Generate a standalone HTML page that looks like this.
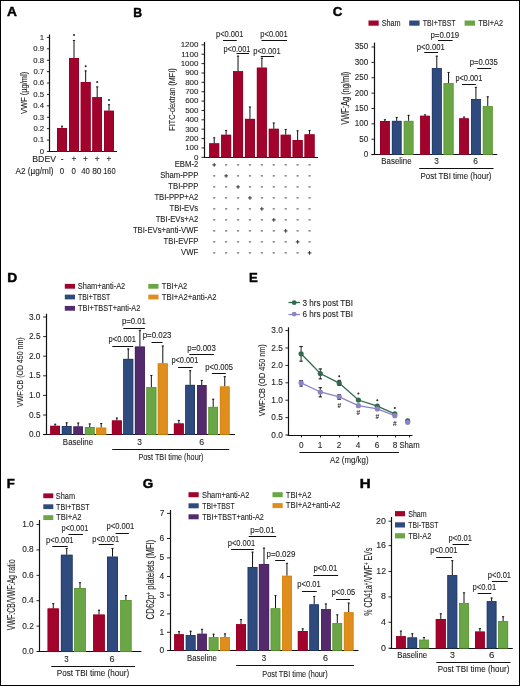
<!DOCTYPE html>
<html><head><meta charset="utf-8"><style>
html,body{margin:0;padding:0;background:#fff;}
svg{display:block;font-family:"Liberation Sans",sans-serif;will-change:transform;}
svg text{stroke:#1e1e1e;stroke-width:0.1px;}
</style></head><body>
<svg width="520" height="686" viewBox="0 0 520 686">
<rect x="0" y="0" width="520" height="686" fill="#fff"/>
<text x="6.96" y="16.10" font-size="13.04" textLength="9.92" lengthAdjust="spacingAndGlyphs" font-weight="bold" fill="#000" style="stroke:#000;stroke-width:0.45px">A</text>
<line x1="49.50" y1="34.50" x2="49.50" y2="152.00" stroke="#111" stroke-width="1.2"/>
<line x1="46.90" y1="151.50" x2="49.90" y2="151.50" stroke="#111" stroke-width="0.9"/>
<text x="39.76" y="153.86" font-size="8.0" textLength="4.32" lengthAdjust="spacingAndGlyphs" fill="#1e1e1e">0</text>
<line x1="46.90" y1="140.09" x2="49.90" y2="140.09" stroke="#111" stroke-width="0.9"/>
<text x="33.36" y="142.45" font-size="8.0" textLength="10.79" lengthAdjust="spacingAndGlyphs" fill="#1e1e1e">0.1</text>
<line x1="46.90" y1="128.68" x2="49.90" y2="128.68" stroke="#111" stroke-width="0.9"/>
<text x="33.40" y="131.04" font-size="8.0" textLength="10.79" lengthAdjust="spacingAndGlyphs" fill="#1e1e1e">0.2</text>
<line x1="46.90" y1="117.27" x2="49.90" y2="117.27" stroke="#111" stroke-width="0.9"/>
<text x="33.32" y="119.63" font-size="8.0" textLength="10.79" lengthAdjust="spacingAndGlyphs" fill="#1e1e1e">0.3</text>
<line x1="46.90" y1="105.86" x2="49.90" y2="105.86" stroke="#111" stroke-width="0.9"/>
<text x="33.25" y="108.22" font-size="8.0" textLength="10.79" lengthAdjust="spacingAndGlyphs" fill="#1e1e1e">0.4</text>
<line x1="46.90" y1="94.45" x2="49.90" y2="94.45" stroke="#111" stroke-width="0.9"/>
<text x="33.32" y="96.81" font-size="8.0" textLength="10.79" lengthAdjust="spacingAndGlyphs" fill="#1e1e1e">0.5</text>
<line x1="46.90" y1="83.04" x2="49.90" y2="83.04" stroke="#111" stroke-width="0.9"/>
<text x="33.32" y="85.40" font-size="8.0" textLength="10.79" lengthAdjust="spacingAndGlyphs" fill="#1e1e1e">0.6</text>
<line x1="46.90" y1="71.63" x2="49.90" y2="71.63" stroke="#111" stroke-width="0.9"/>
<text x="33.40" y="73.99" font-size="8.0" textLength="10.79" lengthAdjust="spacingAndGlyphs" fill="#1e1e1e">0.7</text>
<line x1="46.90" y1="60.22" x2="49.90" y2="60.22" stroke="#111" stroke-width="0.9"/>
<text x="33.32" y="62.58" font-size="8.0" textLength="10.79" lengthAdjust="spacingAndGlyphs" fill="#1e1e1e">0.8</text>
<line x1="46.90" y1="48.81" x2="49.90" y2="48.81" stroke="#111" stroke-width="0.9"/>
<text x="33.36" y="51.17" font-size="8.0" textLength="10.79" lengthAdjust="spacingAndGlyphs" fill="#1e1e1e">0.9</text>
<line x1="46.90" y1="37.40" x2="49.90" y2="37.40" stroke="#111" stroke-width="0.9"/>
<text x="39.84" y="39.76" font-size="8.0" textLength="4.32" lengthAdjust="spacingAndGlyphs" fill="#1e1e1e">1</text>
<line x1="49.00" y1="151.50" x2="117.00" y2="151.50" stroke="#111" stroke-width="1.2"/>
<line x1="62.00" y1="125.75" x2="62.00" y2="128.00" stroke="#111" stroke-width="1.0"/>
<line x1="60.90" y1="126.20" x2="63.10" y2="126.20" stroke="#111" stroke-width="0.9"/>
<rect x="57.00" y="128.00" width="10.00" height="23.50" fill="#a2032c"/>
<rect x="57.35" y="128.35" width="9.30" height="23.15" fill="none" stroke="#960024" stroke-width="0.7"/>
<line x1="74.00" y1="40.00" x2="74.00" y2="58.00" stroke="#111" stroke-width="1.0"/>
<line x1="72.90" y1="40.45" x2="75.10" y2="40.45" stroke="#111" stroke-width="0.9"/>
<rect x="69.00" y="58.00" width="10.00" height="93.50" fill="#a2032c"/>
<rect x="69.35" y="58.35" width="9.30" height="93.15" fill="none" stroke="#960024" stroke-width="0.7"/>
<line x1="85.67" y1="70.50" x2="85.67" y2="82.00" stroke="#111" stroke-width="1.0"/>
<line x1="84.58" y1="70.95" x2="86.77" y2="70.95" stroke="#111" stroke-width="0.9"/>
<rect x="80.75" y="82.00" width="9.85" height="69.50" fill="#a2032c"/>
<rect x="81.10" y="82.35" width="9.15" height="69.15" fill="none" stroke="#960024" stroke-width="0.7"/>
<line x1="97.20" y1="86.50" x2="97.20" y2="97.20" stroke="#111" stroke-width="1.0"/>
<line x1="96.10" y1="86.95" x2="98.30" y2="86.95" stroke="#111" stroke-width="0.9"/>
<rect x="92.40" y="97.20" width="9.60" height="54.30" fill="#a2032c"/>
<rect x="92.75" y="97.55" width="8.90" height="53.95" fill="none" stroke="#960024" stroke-width="0.7"/>
<line x1="109.00" y1="104.25" x2="109.00" y2="110.75" stroke="#111" stroke-width="1.0"/>
<line x1="107.90" y1="104.70" x2="110.10" y2="104.70" stroke="#111" stroke-width="0.9"/>
<rect x="104.00" y="110.75" width="10.00" height="40.75" fill="#a2032c"/>
<rect x="104.35" y="111.10" width="9.30" height="40.40" fill="none" stroke="#960024" stroke-width="0.7"/>
<circle cx="74.00" cy="35.00" r="1.0" fill="#222"/>
<circle cx="85.67" cy="66.25" r="1.0" fill="#222"/>
<circle cx="97.20" cy="81.90" r="1.0" fill="#222"/>
<circle cx="109.00" cy="100.00" r="1.0" fill="#222"/>
<text x="32.30" y="161.58" font-size="8.2" textLength="23.77" lengthAdjust="spacingAndGlyphs" fill="#1e1e1e">BDEV</text>
<text x="62.00" y="161.58" font-size="8.2" text-anchor="middle" fill="#1e1e1e">-</text>
<text x="74.00" y="161.58" font-size="8.2" text-anchor="middle" fill="#1e1e1e">+</text>
<text x="85.50" y="161.58" font-size="8.2" text-anchor="middle" fill="#1e1e1e">+</text>
<text x="97.25" y="161.58" font-size="8.2" text-anchor="middle" fill="#1e1e1e">+</text>
<text x="109.00" y="161.58" font-size="8.2" text-anchor="middle" fill="#1e1e1e">+</text>
<text x="15.50" y="173.58" font-size="8.2" textLength="38.01" lengthAdjust="spacingAndGlyphs" fill="#1e1e1e">A2 (µg/ml)</text>
<text x="59.78" y="173.58" font-size="8.2" textLength="4.40" lengthAdjust="spacingAndGlyphs" fill="#1e1e1e">0</text>
<text x="71.53" y="173.58" font-size="8.2" textLength="4.40" lengthAdjust="spacingAndGlyphs" fill="#1e1e1e">0</text>
<text x="81.14" y="173.58" font-size="8.2" textLength="8.65" lengthAdjust="spacingAndGlyphs" fill="#1e1e1e">40</text>
<text x="92.17" y="173.58" font-size="8.2" textLength="9.40" lengthAdjust="spacingAndGlyphs" fill="#1e1e1e">80</text>
<text x="103.19" y="173.58" font-size="8.2" textLength="12.55" lengthAdjust="spacingAndGlyphs" fill="#1e1e1e">160</text>
<text transform="translate(27.18,113.94) rotate(-90)" x="0" y="0" font-size="9.8" textLength="42.19" lengthAdjust="spacingAndGlyphs" fill="#1e1e1e">VWF (µg/ml)</text>
<text x="133.20" y="16.60" font-size="13.48" textLength="8.88" lengthAdjust="spacingAndGlyphs" font-weight="bold" fill="#000" style="stroke:#000;stroke-width:0.45px">B</text>
<line x1="204.50" y1="42.00" x2="204.50" y2="158.00" stroke="#111" stroke-width="1.2"/>
<line x1="201.50" y1="157.30" x2="204.50" y2="157.30" stroke="#111" stroke-width="0.9"/>
<text x="194.03" y="159.69" font-size="8.1" textLength="4.46" lengthAdjust="spacingAndGlyphs" fill="#1e1e1e">0</text>
<line x1="201.50" y1="147.93" x2="204.50" y2="147.93" stroke="#111" stroke-width="0.9"/>
<text x="185.13" y="150.32" font-size="8.1" textLength="13.38" lengthAdjust="spacingAndGlyphs" fill="#1e1e1e">100</text>
<line x1="201.50" y1="138.56" x2="204.50" y2="138.56" stroke="#111" stroke-width="0.9"/>
<text x="185.13" y="140.95" font-size="8.1" textLength="13.38" lengthAdjust="spacingAndGlyphs" fill="#1e1e1e">200</text>
<line x1="201.50" y1="129.19" x2="204.50" y2="129.19" stroke="#111" stroke-width="0.9"/>
<text x="185.13" y="131.58" font-size="8.1" textLength="13.38" lengthAdjust="spacingAndGlyphs" fill="#1e1e1e">300</text>
<line x1="201.50" y1="119.82" x2="204.50" y2="119.82" stroke="#111" stroke-width="0.9"/>
<text x="185.13" y="122.21" font-size="8.1" textLength="13.38" lengthAdjust="spacingAndGlyphs" fill="#1e1e1e">400</text>
<line x1="201.50" y1="110.45" x2="204.50" y2="110.45" stroke="#111" stroke-width="0.9"/>
<text x="185.13" y="112.84" font-size="8.1" textLength="13.38" lengthAdjust="spacingAndGlyphs" fill="#1e1e1e">500</text>
<line x1="201.50" y1="101.08" x2="204.50" y2="101.08" stroke="#111" stroke-width="0.9"/>
<text x="185.13" y="103.47" font-size="8.1" textLength="13.38" lengthAdjust="spacingAndGlyphs" fill="#1e1e1e">600</text>
<line x1="201.50" y1="91.71" x2="204.50" y2="91.71" stroke="#111" stroke-width="0.9"/>
<text x="185.13" y="94.10" font-size="8.1" textLength="13.38" lengthAdjust="spacingAndGlyphs" fill="#1e1e1e">700</text>
<line x1="201.50" y1="82.34" x2="204.50" y2="82.34" stroke="#111" stroke-width="0.9"/>
<text x="185.13" y="84.73" font-size="8.1" textLength="13.38" lengthAdjust="spacingAndGlyphs" fill="#1e1e1e">800</text>
<line x1="201.50" y1="72.97" x2="204.50" y2="72.97" stroke="#111" stroke-width="0.9"/>
<text x="185.13" y="75.36" font-size="8.1" textLength="13.38" lengthAdjust="spacingAndGlyphs" fill="#1e1e1e">900</text>
<line x1="201.50" y1="63.60" x2="204.50" y2="63.60" stroke="#111" stroke-width="0.9"/>
<text x="180.64" y="65.99" font-size="8.1" textLength="17.84" lengthAdjust="spacingAndGlyphs" fill="#1e1e1e">1000</text>
<line x1="201.50" y1="54.23" x2="204.50" y2="54.23" stroke="#111" stroke-width="0.9"/>
<text x="181.24" y="56.62" font-size="8.1" textLength="17.24" lengthAdjust="spacingAndGlyphs" fill="#1e1e1e">1100</text>
<line x1="201.50" y1="44.86" x2="204.50" y2="44.86" stroke="#111" stroke-width="0.9"/>
<text x="180.64" y="47.25" font-size="8.1" textLength="17.84" lengthAdjust="spacingAndGlyphs" fill="#1e1e1e">1200</text>
<line x1="204.00" y1="157.50" x2="318.00" y2="157.50" stroke="#111" stroke-width="1.2"/>
<line x1="214.20" y1="137.40" x2="214.20" y2="143.40" stroke="#111" stroke-width="1.0"/>
<line x1="213.10" y1="137.85" x2="215.30" y2="137.85" stroke="#111" stroke-width="0.9"/>
<rect x="209.20" y="143.40" width="10.00" height="13.90" fill="#a2032c"/>
<rect x="209.55" y="143.75" width="9.30" height="13.55" fill="none" stroke="#960024" stroke-width="0.7"/>
<line x1="226.12" y1="130.00" x2="226.12" y2="134.80" stroke="#111" stroke-width="1.0"/>
<line x1="225.02" y1="130.45" x2="227.22" y2="130.45" stroke="#111" stroke-width="0.9"/>
<rect x="221.12" y="134.80" width="10.00" height="22.50" fill="#a2032c"/>
<rect x="221.47" y="135.15" width="9.30" height="22.15" fill="none" stroke="#960024" stroke-width="0.7"/>
<line x1="238.04" y1="55.70" x2="238.04" y2="71.20" stroke="#111" stroke-width="1.0"/>
<line x1="236.94" y1="56.15" x2="239.14" y2="56.15" stroke="#111" stroke-width="0.9"/>
<rect x="233.04" y="71.20" width="10.00" height="86.10" fill="#a2032c"/>
<rect x="233.39" y="71.55" width="9.30" height="85.75" fill="none" stroke="#960024" stroke-width="0.7"/>
<line x1="249.96" y1="106.60" x2="249.96" y2="118.90" stroke="#111" stroke-width="1.0"/>
<line x1="248.86" y1="107.05" x2="251.06" y2="107.05" stroke="#111" stroke-width="0.9"/>
<rect x="244.96" y="118.90" width="10.00" height="38.40" fill="#a2032c"/>
<rect x="245.31" y="119.25" width="9.30" height="38.05" fill="none" stroke="#960024" stroke-width="0.7"/>
<line x1="261.88" y1="57.70" x2="261.88" y2="67.70" stroke="#111" stroke-width="1.0"/>
<line x1="260.78" y1="58.15" x2="262.98" y2="58.15" stroke="#111" stroke-width="0.9"/>
<rect x="256.88" y="67.70" width="10.00" height="89.60" fill="#a2032c"/>
<rect x="257.23" y="68.05" width="9.30" height="89.25" fill="none" stroke="#960024" stroke-width="0.7"/>
<line x1="273.80" y1="122.60" x2="273.80" y2="128.80" stroke="#111" stroke-width="1.0"/>
<line x1="272.70" y1="123.05" x2="274.90" y2="123.05" stroke="#111" stroke-width="0.9"/>
<rect x="268.80" y="128.80" width="10.00" height="28.50" fill="#a2032c"/>
<rect x="269.15" y="129.15" width="9.30" height="28.15" fill="none" stroke="#960024" stroke-width="0.7"/>
<line x1="285.72" y1="129.00" x2="285.72" y2="134.80" stroke="#111" stroke-width="1.0"/>
<line x1="284.62" y1="129.45" x2="286.82" y2="129.45" stroke="#111" stroke-width="0.9"/>
<rect x="280.72" y="134.80" width="10.00" height="22.50" fill="#a2032c"/>
<rect x="281.07" y="135.15" width="9.30" height="22.15" fill="none" stroke="#960024" stroke-width="0.7"/>
<line x1="297.64" y1="130.40" x2="297.64" y2="140.00" stroke="#111" stroke-width="1.0"/>
<line x1="296.54" y1="130.85" x2="298.74" y2="130.85" stroke="#111" stroke-width="0.9"/>
<rect x="292.64" y="140.00" width="10.00" height="17.30" fill="#a2032c"/>
<rect x="292.99" y="140.35" width="9.30" height="16.95" fill="none" stroke="#960024" stroke-width="0.7"/>
<line x1="309.56" y1="130.00" x2="309.56" y2="134.40" stroke="#111" stroke-width="1.0"/>
<line x1="308.46" y1="130.45" x2="310.66" y2="130.45" stroke="#111" stroke-width="0.9"/>
<rect x="304.56" y="134.40" width="10.00" height="22.90" fill="#a2032c"/>
<rect x="304.91" y="134.75" width="9.30" height="22.55" fill="none" stroke="#960024" stroke-width="0.7"/>
<text x="216.01" y="36.63" font-size="8.2" textLength="27.35" lengthAdjust="spacingAndGlyphs" fill="#1e1e1e">p&lt;0.001</text>
<line x1="223.00" y1="40.50" x2="236.80" y2="40.50" stroke="#111" stroke-width="1.0"/>
<text x="223.52" y="52.33" font-size="8.2" textLength="26.83" lengthAdjust="spacingAndGlyphs" fill="#1e1e1e">p&lt;0.001</text>
<line x1="236.50" y1="53.50" x2="249.00" y2="53.50" stroke="#111" stroke-width="1.0"/>
<text x="253.31" y="53.63" font-size="8.2" textLength="27.35" lengthAdjust="spacingAndGlyphs" fill="#1e1e1e">p&lt;0.001</text>
<line x1="260.80" y1="56.50" x2="274.20" y2="56.50" stroke="#111" stroke-width="1.0"/>
<text x="260.31" y="36.63" font-size="8.2" textLength="27.45" lengthAdjust="spacingAndGlyphs" fill="#1e1e1e">p&lt;0.001</text>
<line x1="261.50" y1="40.50" x2="287.00" y2="40.50" stroke="#111" stroke-width="1.0"/>
<text x="174.74" y="166.83" font-size="8.2" textLength="23.56" lengthAdjust="spacingAndGlyphs" fill="#1e1e1e">EBM-2</text>
<line x1="212.30" y1="164.90" x2="216.10" y2="164.90" stroke="#222" stroke-width="0.9"/>
<line x1="214.20" y1="163.00" x2="214.20" y2="166.80" stroke="#222" stroke-width="0.9"/>
<line x1="225.02" y1="164.90" x2="227.22" y2="164.90" stroke="#333" stroke-width="0.9"/>
<line x1="236.94" y1="164.90" x2="239.14" y2="164.90" stroke="#333" stroke-width="0.9"/>
<line x1="248.86" y1="164.90" x2="251.06" y2="164.90" stroke="#333" stroke-width="0.9"/>
<line x1="260.78" y1="164.90" x2="262.98" y2="164.90" stroke="#333" stroke-width="0.9"/>
<line x1="272.70" y1="164.90" x2="274.90" y2="164.90" stroke="#333" stroke-width="0.9"/>
<line x1="284.62" y1="164.90" x2="286.82" y2="164.90" stroke="#333" stroke-width="0.9"/>
<line x1="296.54" y1="164.90" x2="298.74" y2="164.90" stroke="#333" stroke-width="0.9"/>
<line x1="308.46" y1="164.90" x2="310.66" y2="164.90" stroke="#333" stroke-width="0.9"/>
<text x="160.17" y="177.83" font-size="8.2" textLength="38.13" lengthAdjust="spacingAndGlyphs" fill="#1e1e1e">Sham-PPP</text>
<line x1="213.10" y1="175.90" x2="215.30" y2="175.90" stroke="#333" stroke-width="0.9"/>
<line x1="224.22" y1="175.90" x2="228.02" y2="175.90" stroke="#222" stroke-width="0.9"/>
<line x1="226.12" y1="174.00" x2="226.12" y2="177.80" stroke="#222" stroke-width="0.9"/>
<line x1="236.94" y1="175.90" x2="239.14" y2="175.90" stroke="#333" stroke-width="0.9"/>
<line x1="248.86" y1="175.90" x2="251.06" y2="175.90" stroke="#333" stroke-width="0.9"/>
<line x1="260.78" y1="175.90" x2="262.98" y2="175.90" stroke="#333" stroke-width="0.9"/>
<line x1="272.70" y1="175.90" x2="274.90" y2="175.90" stroke="#333" stroke-width="0.9"/>
<line x1="284.62" y1="175.90" x2="286.82" y2="175.90" stroke="#333" stroke-width="0.9"/>
<line x1="296.54" y1="175.90" x2="298.74" y2="175.90" stroke="#333" stroke-width="0.9"/>
<line x1="308.46" y1="175.90" x2="310.66" y2="175.90" stroke="#333" stroke-width="0.9"/>
<text x="168.30" y="188.83" font-size="8.2" textLength="29.98" lengthAdjust="spacingAndGlyphs" fill="#1e1e1e">TBI-PPP</text>
<line x1="213.10" y1="186.90" x2="215.30" y2="186.90" stroke="#333" stroke-width="0.9"/>
<line x1="225.02" y1="186.90" x2="227.22" y2="186.90" stroke="#333" stroke-width="0.9"/>
<line x1="236.14" y1="186.90" x2="239.94" y2="186.90" stroke="#222" stroke-width="0.9"/>
<line x1="238.04" y1="185.00" x2="238.04" y2="188.80" stroke="#222" stroke-width="0.9"/>
<line x1="248.86" y1="186.90" x2="251.06" y2="186.90" stroke="#333" stroke-width="0.9"/>
<line x1="260.78" y1="186.90" x2="262.98" y2="186.90" stroke="#333" stroke-width="0.9"/>
<line x1="272.70" y1="186.90" x2="274.90" y2="186.90" stroke="#333" stroke-width="0.9"/>
<line x1="284.62" y1="186.90" x2="286.82" y2="186.90" stroke="#333" stroke-width="0.9"/>
<line x1="296.54" y1="186.90" x2="298.74" y2="186.90" stroke="#333" stroke-width="0.9"/>
<line x1="308.46" y1="186.90" x2="310.66" y2="186.90" stroke="#333" stroke-width="0.9"/>
<text x="154.39" y="199.83" font-size="8.2" textLength="43.91" lengthAdjust="spacingAndGlyphs" fill="#1e1e1e">TBI-PPP+A2</text>
<line x1="213.10" y1="197.90" x2="215.30" y2="197.90" stroke="#333" stroke-width="0.9"/>
<line x1="225.02" y1="197.90" x2="227.22" y2="197.90" stroke="#333" stroke-width="0.9"/>
<line x1="236.94" y1="197.90" x2="239.14" y2="197.90" stroke="#333" stroke-width="0.9"/>
<line x1="248.06" y1="197.90" x2="251.86" y2="197.90" stroke="#222" stroke-width="0.9"/>
<line x1="249.96" y1="196.00" x2="249.96" y2="199.80" stroke="#222" stroke-width="0.9"/>
<line x1="260.78" y1="197.90" x2="262.98" y2="197.90" stroke="#333" stroke-width="0.9"/>
<line x1="272.70" y1="197.90" x2="274.90" y2="197.90" stroke="#333" stroke-width="0.9"/>
<line x1="284.62" y1="197.90" x2="286.82" y2="197.90" stroke="#333" stroke-width="0.9"/>
<line x1="296.54" y1="197.90" x2="298.74" y2="197.90" stroke="#333" stroke-width="0.9"/>
<line x1="308.46" y1="197.90" x2="310.66" y2="197.90" stroke="#333" stroke-width="0.9"/>
<text x="169.46" y="210.83" font-size="8.2" textLength="28.70" lengthAdjust="spacingAndGlyphs" fill="#1e1e1e">TBI-EVs</text>
<line x1="213.10" y1="208.90" x2="215.30" y2="208.90" stroke="#333" stroke-width="0.9"/>
<line x1="225.02" y1="208.90" x2="227.22" y2="208.90" stroke="#333" stroke-width="0.9"/>
<line x1="236.94" y1="208.90" x2="239.14" y2="208.90" stroke="#333" stroke-width="0.9"/>
<line x1="248.86" y1="208.90" x2="251.06" y2="208.90" stroke="#333" stroke-width="0.9"/>
<line x1="259.98" y1="208.90" x2="263.78" y2="208.90" stroke="#222" stroke-width="0.9"/>
<line x1="261.88" y1="207.00" x2="261.88" y2="210.80" stroke="#222" stroke-width="0.9"/>
<line x1="272.70" y1="208.90" x2="274.90" y2="208.90" stroke="#333" stroke-width="0.9"/>
<line x1="284.62" y1="208.90" x2="286.82" y2="208.90" stroke="#333" stroke-width="0.9"/>
<line x1="296.54" y1="208.90" x2="298.74" y2="208.90" stroke="#333" stroke-width="0.9"/>
<line x1="308.46" y1="208.90" x2="310.66" y2="208.90" stroke="#333" stroke-width="0.9"/>
<text x="155.66" y="221.83" font-size="8.2" textLength="42.63" lengthAdjust="spacingAndGlyphs" fill="#1e1e1e">TBI-EVs+A2</text>
<line x1="213.10" y1="219.90" x2="215.30" y2="219.90" stroke="#333" stroke-width="0.9"/>
<line x1="225.02" y1="219.90" x2="227.22" y2="219.90" stroke="#333" stroke-width="0.9"/>
<line x1="236.94" y1="219.90" x2="239.14" y2="219.90" stroke="#333" stroke-width="0.9"/>
<line x1="248.86" y1="219.90" x2="251.06" y2="219.90" stroke="#333" stroke-width="0.9"/>
<line x1="260.78" y1="219.90" x2="262.98" y2="219.90" stroke="#333" stroke-width="0.9"/>
<line x1="271.90" y1="219.90" x2="275.70" y2="219.90" stroke="#222" stroke-width="0.9"/>
<line x1="273.80" y1="218.00" x2="273.80" y2="221.80" stroke="#222" stroke-width="0.9"/>
<line x1="284.62" y1="219.90" x2="286.82" y2="219.90" stroke="#333" stroke-width="0.9"/>
<line x1="296.54" y1="219.90" x2="298.74" y2="219.90" stroke="#333" stroke-width="0.9"/>
<line x1="308.46" y1="219.90" x2="310.66" y2="219.90" stroke="#333" stroke-width="0.9"/>
<text x="132.88" y="232.83" font-size="8.2" textLength="65.32" lengthAdjust="spacingAndGlyphs" fill="#1e1e1e">TBI-EVs+anti-VWF</text>
<line x1="213.10" y1="230.90" x2="215.30" y2="230.90" stroke="#333" stroke-width="0.9"/>
<line x1="225.02" y1="230.90" x2="227.22" y2="230.90" stroke="#333" stroke-width="0.9"/>
<line x1="236.94" y1="230.90" x2="239.14" y2="230.90" stroke="#333" stroke-width="0.9"/>
<line x1="248.86" y1="230.90" x2="251.06" y2="230.90" stroke="#333" stroke-width="0.9"/>
<line x1="260.78" y1="230.90" x2="262.98" y2="230.90" stroke="#333" stroke-width="0.9"/>
<line x1="272.70" y1="230.90" x2="274.90" y2="230.90" stroke="#333" stroke-width="0.9"/>
<line x1="283.82" y1="230.90" x2="287.62" y2="230.90" stroke="#222" stroke-width="0.9"/>
<line x1="285.72" y1="229.00" x2="285.72" y2="232.80" stroke="#222" stroke-width="0.9"/>
<line x1="296.54" y1="230.90" x2="298.74" y2="230.90" stroke="#333" stroke-width="0.9"/>
<line x1="308.46" y1="230.90" x2="310.66" y2="230.90" stroke="#333" stroke-width="0.9"/>
<text x="163.60" y="243.83" font-size="8.2" textLength="34.69" lengthAdjust="spacingAndGlyphs" fill="#1e1e1e">TBI-EVFP</text>
<line x1="213.10" y1="241.90" x2="215.30" y2="241.90" stroke="#333" stroke-width="0.9"/>
<line x1="225.02" y1="241.90" x2="227.22" y2="241.90" stroke="#333" stroke-width="0.9"/>
<line x1="236.94" y1="241.90" x2="239.14" y2="241.90" stroke="#333" stroke-width="0.9"/>
<line x1="248.86" y1="241.90" x2="251.06" y2="241.90" stroke="#333" stroke-width="0.9"/>
<line x1="260.78" y1="241.90" x2="262.98" y2="241.90" stroke="#333" stroke-width="0.9"/>
<line x1="272.70" y1="241.90" x2="274.90" y2="241.90" stroke="#333" stroke-width="0.9"/>
<line x1="284.62" y1="241.90" x2="286.82" y2="241.90" stroke="#333" stroke-width="0.9"/>
<line x1="295.74" y1="241.90" x2="299.54" y2="241.90" stroke="#222" stroke-width="0.9"/>
<line x1="297.64" y1="240.00" x2="297.64" y2="243.80" stroke="#222" stroke-width="0.9"/>
<line x1="308.46" y1="241.90" x2="310.66" y2="241.90" stroke="#333" stroke-width="0.9"/>
<text x="181.10" y="254.83" font-size="8.2" textLength="17.13" lengthAdjust="spacingAndGlyphs" fill="#1e1e1e">VWF</text>
<line x1="213.10" y1="252.90" x2="215.30" y2="252.90" stroke="#333" stroke-width="0.9"/>
<line x1="225.02" y1="252.90" x2="227.22" y2="252.90" stroke="#333" stroke-width="0.9"/>
<line x1="236.94" y1="252.90" x2="239.14" y2="252.90" stroke="#333" stroke-width="0.9"/>
<line x1="248.86" y1="252.90" x2="251.06" y2="252.90" stroke="#333" stroke-width="0.9"/>
<line x1="260.78" y1="252.90" x2="262.98" y2="252.90" stroke="#333" stroke-width="0.9"/>
<line x1="272.70" y1="252.90" x2="274.90" y2="252.90" stroke="#333" stroke-width="0.9"/>
<line x1="284.62" y1="252.90" x2="286.82" y2="252.90" stroke="#333" stroke-width="0.9"/>
<line x1="296.54" y1="252.90" x2="298.74" y2="252.90" stroke="#333" stroke-width="0.9"/>
<line x1="307.66" y1="252.90" x2="311.46" y2="252.90" stroke="#222" stroke-width="0.9"/>
<line x1="309.56" y1="251.00" x2="309.56" y2="254.80" stroke="#222" stroke-width="0.9"/>
<text transform="translate(174.53,130.68) rotate(-90)" x="0" y="0" font-size="9.8" textLength="62.43" lengthAdjust="spacingAndGlyphs" fill="#1e1e1e">FITC-dextran (MFI)</text>
<text x="332.77" y="16.00" font-size="13.33" textLength="9.59" lengthAdjust="spacingAndGlyphs" font-weight="bold" fill="#000" style="stroke:#000;stroke-width:0.45px">C</text>
<rect x="368.50" y="20.50" width="10.20" height="5.20" fill="#a2032c"/>
<text x="381.67" y="25.63" font-size="8.2" textLength="18.98" lengthAdjust="spacingAndGlyphs" fill="#1e1e1e">Sham</text>
<rect x="409.20" y="20.50" width="10.40" height="5.20" fill="#2f4a7d"/>
<text x="422.86" y="25.63" font-size="8.2" textLength="32.68" lengthAdjust="spacingAndGlyphs" fill="#1e1e1e">TBI+TBST</text>
<rect x="464.60" y="20.50" width="10.40" height="5.20" fill="#6aa645"/>
<text x="478.35" y="25.63" font-size="8.2" textLength="24.74" lengthAdjust="spacingAndGlyphs" fill="#1e1e1e">TBI+A2</text>
<line x1="374.50" y1="42.60" x2="374.50" y2="155.00" stroke="#111" stroke-width="1.2"/>
<line x1="371.50" y1="154.60" x2="374.50" y2="154.60" stroke="#111" stroke-width="0.9"/>
<text x="363.71" y="157.06" font-size="8.3" textLength="4.48" lengthAdjust="spacingAndGlyphs" fill="#1e1e1e">0</text>
<line x1="371.50" y1="139.23" x2="374.50" y2="139.23" stroke="#111" stroke-width="0.9"/>
<text x="359.25" y="141.69" font-size="8.3" textLength="8.96" lengthAdjust="spacingAndGlyphs" fill="#1e1e1e">50</text>
<line x1="371.50" y1="123.86" x2="374.50" y2="123.86" stroke="#111" stroke-width="0.9"/>
<text x="354.78" y="126.32" font-size="8.3" textLength="13.43" lengthAdjust="spacingAndGlyphs" fill="#1e1e1e">100</text>
<line x1="371.50" y1="108.49" x2="374.50" y2="108.49" stroke="#111" stroke-width="0.9"/>
<text x="354.78" y="110.95" font-size="8.3" textLength="13.43" lengthAdjust="spacingAndGlyphs" fill="#1e1e1e">150</text>
<line x1="371.50" y1="93.12" x2="374.50" y2="93.12" stroke="#111" stroke-width="0.9"/>
<text x="354.78" y="95.58" font-size="8.3" textLength="13.43" lengthAdjust="spacingAndGlyphs" fill="#1e1e1e">200</text>
<line x1="371.50" y1="77.75" x2="374.50" y2="77.75" stroke="#111" stroke-width="0.9"/>
<text x="354.78" y="80.21" font-size="8.3" textLength="13.43" lengthAdjust="spacingAndGlyphs" fill="#1e1e1e">250</text>
<line x1="371.50" y1="62.38" x2="374.50" y2="62.38" stroke="#111" stroke-width="0.9"/>
<text x="354.78" y="64.84" font-size="8.3" textLength="13.43" lengthAdjust="spacingAndGlyphs" fill="#1e1e1e">300</text>
<line x1="371.50" y1="47.01" x2="374.50" y2="47.01" stroke="#111" stroke-width="0.9"/>
<text x="354.78" y="49.47" font-size="8.3" textLength="13.43" lengthAdjust="spacingAndGlyphs" fill="#1e1e1e">350</text>
<line x1="371.50" y1="154.50" x2="497.30" y2="154.50" stroke="#111" stroke-width="1.2"/>
<line x1="384.90" y1="119.30" x2="384.90" y2="121.00" stroke="#111" stroke-width="1.0"/>
<line x1="383.80" y1="119.75" x2="386.00" y2="119.75" stroke="#111" stroke-width="0.9"/>
<rect x="380.00" y="121.00" width="9.80" height="33.60" fill="#a2032c"/>
<rect x="380.35" y="121.35" width="9.10" height="33.25" fill="none" stroke="#960024" stroke-width="0.7"/>
<line x1="396.70" y1="117.00" x2="396.70" y2="120.90" stroke="#111" stroke-width="1.0"/>
<line x1="395.60" y1="117.45" x2="397.80" y2="117.45" stroke="#111" stroke-width="0.9"/>
<rect x="391.90" y="120.90" width="9.60" height="33.70" fill="#2f4a7d"/>
<rect x="392.25" y="121.25" width="8.90" height="33.35" fill="none" stroke="#1f386a" stroke-width="0.7"/>
<line x1="408.60" y1="114.90" x2="408.60" y2="120.90" stroke="#111" stroke-width="1.0"/>
<line x1="407.50" y1="115.35" x2="409.70" y2="115.35" stroke="#111" stroke-width="0.9"/>
<rect x="403.80" y="120.90" width="9.60" height="33.70" fill="#6aa645"/>
<rect x="404.15" y="121.25" width="8.90" height="33.35" fill="none" stroke="#59992f" stroke-width="0.7"/>
<line x1="425.05" y1="114.40" x2="425.05" y2="115.80" stroke="#111" stroke-width="1.0"/>
<line x1="423.95" y1="114.85" x2="426.15" y2="114.85" stroke="#111" stroke-width="0.9"/>
<rect x="420.20" y="115.80" width="9.70" height="38.80" fill="#a2032c"/>
<rect x="420.55" y="116.15" width="9.00" height="38.45" fill="none" stroke="#960024" stroke-width="0.7"/>
<line x1="436.80" y1="55.75" x2="436.80" y2="68.10" stroke="#111" stroke-width="1.0"/>
<line x1="435.70" y1="56.20" x2="437.90" y2="56.20" stroke="#111" stroke-width="0.9"/>
<rect x="431.90" y="68.10" width="9.80" height="86.50" fill="#2f4a7d"/>
<rect x="432.25" y="68.45" width="9.10" height="86.15" fill="none" stroke="#1f386a" stroke-width="0.7"/>
<line x1="448.55" y1="72.00" x2="448.55" y2="83.20" stroke="#111" stroke-width="1.0"/>
<line x1="447.45" y1="72.45" x2="449.65" y2="72.45" stroke="#111" stroke-width="0.9"/>
<rect x="443.60" y="83.20" width="9.90" height="71.40" fill="#6aa645"/>
<rect x="443.95" y="83.55" width="9.20" height="71.05" fill="none" stroke="#59992f" stroke-width="0.7"/>
<line x1="464.05" y1="116.70" x2="464.05" y2="118.40" stroke="#111" stroke-width="1.0"/>
<line x1="462.95" y1="117.15" x2="465.15" y2="117.15" stroke="#111" stroke-width="0.9"/>
<rect x="459.20" y="118.40" width="9.70" height="36.20" fill="#a2032c"/>
<rect x="459.55" y="118.75" width="9.00" height="35.85" fill="none" stroke="#960024" stroke-width="0.7"/>
<line x1="475.93" y1="86.90" x2="475.93" y2="99.00" stroke="#111" stroke-width="1.0"/>
<line x1="474.82" y1="87.35" x2="477.03" y2="87.35" stroke="#111" stroke-width="0.9"/>
<rect x="471.10" y="99.00" width="9.65" height="55.60" fill="#2f4a7d"/>
<rect x="471.45" y="99.35" width="8.95" height="55.25" fill="none" stroke="#1f386a" stroke-width="0.7"/>
<line x1="487.75" y1="96.35" x2="487.75" y2="106.20" stroke="#111" stroke-width="1.0"/>
<line x1="486.65" y1="96.80" x2="488.85" y2="96.80" stroke="#111" stroke-width="0.9"/>
<rect x="482.85" y="106.20" width="9.80" height="48.40" fill="#6aa645"/>
<rect x="483.20" y="106.55" width="9.10" height="48.05" fill="none" stroke="#59992f" stroke-width="0.7"/>
<text x="430.49" y="37.83" font-size="8.2" textLength="28.69" lengthAdjust="spacingAndGlyphs" fill="#1e1e1e">p=0.019</text>
<line x1="438.00" y1="40.50" x2="452.60" y2="40.50" stroke="#111" stroke-width="1.0"/>
<text x="416.80" y="50.23" font-size="8.2" textLength="27.86" lengthAdjust="spacingAndGlyphs" fill="#1e1e1e">p&lt;0.001</text>
<line x1="424.20" y1="52.50" x2="438.00" y2="52.50" stroke="#111" stroke-width="1.0"/>
<text x="455.42" y="81.33" font-size="8.2" textLength="26.93" lengthAdjust="spacingAndGlyphs" fill="#1e1e1e">p&lt;0.001</text>
<line x1="462.00" y1="84.50" x2="475.85" y2="84.50" stroke="#111" stroke-width="1.0"/>
<text x="469.75" y="65.23" font-size="8.2" textLength="27.98" lengthAdjust="spacingAndGlyphs" fill="#1e1e1e">p=0.035</text>
<line x1="477.25" y1="68.50" x2="491.25" y2="68.50" stroke="#111" stroke-width="1.0"/>
<text x="381.37" y="164.33" font-size="8.2" textLength="30.19" lengthAdjust="spacingAndGlyphs" fill="#1e1e1e">Baseline</text>
<text x="434.27" y="164.33" font-size="8.2" textLength="4.57" lengthAdjust="spacingAndGlyphs" fill="#1e1e1e">3</text>
<text x="473.38" y="164.33" font-size="8.2" textLength="4.66" lengthAdjust="spacingAndGlyphs" fill="#1e1e1e">6</text>
<line x1="419.20" y1="168.50" x2="493.50" y2="168.50" stroke="#111" stroke-width="1.2"/>
<text x="420.56" y="178.63" font-size="8.2" textLength="70.94" lengthAdjust="spacingAndGlyphs" fill="#1e1e1e">Post TBI time (hour)</text>
<text transform="translate(349.39,124.74) rotate(-90)" x="0" y="0" font-size="10.4" textLength="53.10" lengthAdjust="spacingAndGlyphs" fill="#1e1e1e">VWF:Ag (ng/ml)</text>
<text x="7.20" y="281.90" font-size="12.32" textLength="9.98" lengthAdjust="spacingAndGlyphs" font-weight="bold" fill="#000" style="stroke:#000;stroke-width:0.45px">D</text>
<rect x="64.80" y="283.90" width="10.20" height="4.80" fill="#a2032c"/>
<text x="77.86" y="289.13" font-size="8.2" textLength="47.41" lengthAdjust="spacingAndGlyphs" fill="#1e1e1e">Sham+anti-A2</text>
<rect x="64.80" y="294.60" width="10.20" height="4.80" fill="#2f4a7d"/>
<text x="78.06" y="299.83" font-size="8.2" textLength="32.28" lengthAdjust="spacingAndGlyphs" fill="#1e1e1e">TBI+TBST</text>
<rect x="64.80" y="305.90" width="10.20" height="4.80" fill="#532a6c"/>
<text x="78.05" y="311.13" font-size="8.2" textLength="62.34" lengthAdjust="spacingAndGlyphs" fill="#1e1e1e">TBI+TBST+anti-A2</text>
<rect x="148.30" y="283.90" width="10.20" height="4.80" fill="#6aa645"/>
<text x="161.85" y="289.13" font-size="8.2" textLength="25.25" lengthAdjust="spacingAndGlyphs" fill="#1e1e1e">TBI+A2</text>
<rect x="148.30" y="294.60" width="10.20" height="4.80" fill="#df8d1c"/>
<text x="161.85" y="299.83" font-size="8.2" textLength="54.74" lengthAdjust="spacingAndGlyphs" fill="#1e1e1e">TBI+A2+anti-A2</text>
<line x1="46.50" y1="313.70" x2="46.50" y2="435.00" stroke="#111" stroke-width="1.2"/>
<line x1="43.10" y1="434.60" x2="46.10" y2="434.60" stroke="#111" stroke-width="0.9"/>
<text x="28.93" y="437.10" font-size="8.4" textLength="11.56" lengthAdjust="spacingAndGlyphs" fill="#1e1e1e">0.0</text>
<line x1="43.10" y1="415.00" x2="46.10" y2="415.00" stroke="#111" stroke-width="0.9"/>
<text x="28.97" y="417.50" font-size="8.4" textLength="11.56" lengthAdjust="spacingAndGlyphs" fill="#1e1e1e">0.5</text>
<line x1="43.10" y1="395.40" x2="46.10" y2="395.40" stroke="#111" stroke-width="0.9"/>
<text x="28.93" y="397.90" font-size="8.4" textLength="11.56" lengthAdjust="spacingAndGlyphs" fill="#1e1e1e">1.0</text>
<line x1="43.10" y1="375.80" x2="46.10" y2="375.80" stroke="#111" stroke-width="0.9"/>
<text x="28.97" y="378.30" font-size="8.4" textLength="11.56" lengthAdjust="spacingAndGlyphs" fill="#1e1e1e">1.5</text>
<line x1="43.10" y1="356.20" x2="46.10" y2="356.20" stroke="#111" stroke-width="0.9"/>
<text x="28.93" y="358.70" font-size="8.4" textLength="11.56" lengthAdjust="spacingAndGlyphs" fill="#1e1e1e">2.0</text>
<line x1="43.10" y1="336.60" x2="46.10" y2="336.60" stroke="#111" stroke-width="0.9"/>
<text x="28.97" y="339.10" font-size="8.4" textLength="11.56" lengthAdjust="spacingAndGlyphs" fill="#1e1e1e">2.5</text>
<line x1="43.10" y1="317.00" x2="46.10" y2="317.00" stroke="#111" stroke-width="0.9"/>
<text x="28.93" y="319.50" font-size="8.4" textLength="11.56" lengthAdjust="spacingAndGlyphs" fill="#1e1e1e">3.0</text>
<line x1="43.10" y1="434.50" x2="235.00" y2="434.50" stroke="#111" stroke-width="1.2"/>
<line x1="55.15" y1="423.80" x2="55.15" y2="425.85" stroke="#111" stroke-width="1.0"/>
<line x1="54.05" y1="424.25" x2="56.25" y2="424.25" stroke="#111" stroke-width="0.9"/>
<rect x="50.30" y="425.85" width="9.70" height="8.75" fill="#a2032c"/>
<rect x="50.65" y="426.20" width="9.00" height="8.40" fill="none" stroke="#960024" stroke-width="0.7"/>
<line x1="66.67" y1="422.40" x2="66.67" y2="426.00" stroke="#111" stroke-width="1.0"/>
<line x1="65.58" y1="422.85" x2="67.77" y2="422.85" stroke="#111" stroke-width="0.9"/>
<rect x="61.85" y="426.00" width="9.65" height="8.60" fill="#2f4a7d"/>
<rect x="62.20" y="426.35" width="8.95" height="8.25" fill="none" stroke="#1f386a" stroke-width="0.7"/>
<line x1="78.20" y1="422.60" x2="78.20" y2="426.50" stroke="#111" stroke-width="1.0"/>
<line x1="77.10" y1="423.05" x2="79.30" y2="423.05" stroke="#111" stroke-width="0.9"/>
<rect x="73.40" y="426.50" width="9.60" height="8.10" fill="#532a6c"/>
<rect x="73.75" y="426.85" width="8.90" height="7.75" fill="none" stroke="#47215e" stroke-width="0.7"/>
<line x1="89.75" y1="423.50" x2="89.75" y2="427.00" stroke="#111" stroke-width="1.0"/>
<line x1="88.65" y1="423.95" x2="90.85" y2="423.95" stroke="#111" stroke-width="0.9"/>
<rect x="84.90" y="427.00" width="9.70" height="7.60" fill="#6aa645"/>
<rect x="85.25" y="427.35" width="9.00" height="7.25" fill="none" stroke="#59992f" stroke-width="0.7"/>
<line x1="101.20" y1="423.10" x2="101.20" y2="427.70" stroke="#111" stroke-width="1.0"/>
<line x1="100.10" y1="423.55" x2="102.30" y2="423.55" stroke="#111" stroke-width="0.9"/>
<rect x="96.20" y="427.70" width="10.00" height="6.90" fill="#df8d1c"/>
<rect x="96.55" y="428.05" width="9.30" height="6.55" fill="none" stroke="#d6840f" stroke-width="0.7"/>
<line x1="116.85" y1="417.60" x2="116.85" y2="420.50" stroke="#111" stroke-width="1.0"/>
<line x1="115.75" y1="418.05" x2="117.95" y2="418.05" stroke="#111" stroke-width="0.9"/>
<rect x="111.90" y="420.50" width="9.90" height="14.10" fill="#a2032c"/>
<rect x="112.25" y="420.85" width="9.20" height="13.75" fill="none" stroke="#960024" stroke-width="0.7"/>
<line x1="128.25" y1="348.50" x2="128.25" y2="358.90" stroke="#111" stroke-width="1.0"/>
<line x1="127.15" y1="348.95" x2="129.35" y2="348.95" stroke="#111" stroke-width="0.9"/>
<rect x="123.30" y="358.90" width="9.90" height="75.70" fill="#2f4a7d"/>
<rect x="123.65" y="359.25" width="9.20" height="75.35" fill="none" stroke="#1f386a" stroke-width="0.7"/>
<line x1="139.90" y1="329.90" x2="139.90" y2="346.60" stroke="#111" stroke-width="1.0"/>
<line x1="138.80" y1="330.35" x2="141.00" y2="330.35" stroke="#111" stroke-width="0.9"/>
<rect x="134.90" y="346.60" width="10.00" height="88.00" fill="#532a6c"/>
<rect x="135.25" y="346.95" width="9.30" height="87.65" fill="none" stroke="#47215e" stroke-width="0.7"/>
<line x1="151.35" y1="375.00" x2="151.35" y2="387.10" stroke="#111" stroke-width="1.0"/>
<line x1="150.25" y1="375.45" x2="152.45" y2="375.45" stroke="#111" stroke-width="0.9"/>
<rect x="146.40" y="387.10" width="9.90" height="47.50" fill="#6aa645"/>
<rect x="146.75" y="387.45" width="9.20" height="47.15" fill="none" stroke="#59992f" stroke-width="0.7"/>
<line x1="162.80" y1="345.60" x2="162.80" y2="363.40" stroke="#111" stroke-width="1.0"/>
<line x1="161.70" y1="346.05" x2="163.90" y2="346.05" stroke="#111" stroke-width="0.9"/>
<rect x="157.80" y="363.40" width="10.00" height="71.20" fill="#df8d1c"/>
<rect x="158.15" y="363.75" width="9.30" height="70.85" fill="none" stroke="#d6840f" stroke-width="0.7"/>
<line x1="178.85" y1="420.00" x2="178.85" y2="423.50" stroke="#111" stroke-width="1.0"/>
<line x1="177.75" y1="420.45" x2="179.95" y2="420.45" stroke="#111" stroke-width="0.9"/>
<rect x="173.90" y="423.50" width="9.90" height="11.10" fill="#a2032c"/>
<rect x="174.25" y="423.85" width="9.20" height="10.75" fill="none" stroke="#960024" stroke-width="0.7"/>
<line x1="190.15" y1="370.30" x2="190.15" y2="384.90" stroke="#111" stroke-width="1.0"/>
<line x1="189.05" y1="370.75" x2="191.25" y2="370.75" stroke="#111" stroke-width="0.9"/>
<rect x="185.30" y="384.90" width="9.70" height="49.70" fill="#2f4a7d"/>
<rect x="185.65" y="385.25" width="9.00" height="49.35" fill="none" stroke="#1f386a" stroke-width="0.7"/>
<line x1="201.75" y1="380.00" x2="201.75" y2="385.00" stroke="#111" stroke-width="1.0"/>
<line x1="200.65" y1="380.45" x2="202.85" y2="380.45" stroke="#111" stroke-width="0.9"/>
<rect x="197.00" y="385.00" width="9.50" height="49.60" fill="#532a6c"/>
<rect x="197.35" y="385.35" width="8.80" height="49.25" fill="none" stroke="#47215e" stroke-width="0.7"/>
<line x1="213.20" y1="398.80" x2="213.20" y2="406.90" stroke="#111" stroke-width="1.0"/>
<line x1="212.10" y1="399.25" x2="214.30" y2="399.25" stroke="#111" stroke-width="0.9"/>
<rect x="208.40" y="406.90" width="9.60" height="27.70" fill="#6aa645"/>
<rect x="208.75" y="407.25" width="8.90" height="27.35" fill="none" stroke="#59992f" stroke-width="0.7"/>
<line x1="224.75" y1="376.20" x2="224.75" y2="386.50" stroke="#111" stroke-width="1.0"/>
<line x1="223.65" y1="376.65" x2="225.85" y2="376.65" stroke="#111" stroke-width="0.9"/>
<rect x="219.90" y="386.50" width="9.70" height="48.10" fill="#df8d1c"/>
<rect x="220.25" y="386.85" width="9.00" height="47.75" fill="none" stroke="#d6840f" stroke-width="0.7"/>
<text x="121.90" y="323.83" font-size="8.2" textLength="23.97" lengthAdjust="spacingAndGlyphs" fill="#1e1e1e">p=0.01</text>
<line x1="123.30" y1="328.50" x2="144.90" y2="328.50" stroke="#111" stroke-width="1.0"/>
<text x="108.61" y="342.23" font-size="8.2" textLength="27.35" lengthAdjust="spacingAndGlyphs" fill="#1e1e1e">p&lt;0.001</text>
<line x1="112.30" y1="346.50" x2="133.20" y2="346.50" stroke="#111" stroke-width="1.0"/>
<text x="142.69" y="338.03" font-size="8.2" textLength="28.75" lengthAdjust="spacingAndGlyphs" fill="#1e1e1e">p=0.023</text>
<line x1="151.50" y1="342.50" x2="162.50" y2="342.50" stroke="#111" stroke-width="1.0"/>
<text x="187.29" y="350.83" font-size="8.2" textLength="28.54" lengthAdjust="spacingAndGlyphs" fill="#1e1e1e">p=0.003</text>
<line x1="189.30" y1="354.50" x2="213.90" y2="354.50" stroke="#111" stroke-width="1.0"/>
<text x="171.42" y="362.83" font-size="8.2" textLength="26.93" lengthAdjust="spacingAndGlyphs" fill="#1e1e1e">p&lt;0.001</text>
<line x1="178.00" y1="367.50" x2="192.70" y2="367.50" stroke="#111" stroke-width="1.0"/>
<text x="205.31" y="369.73" font-size="8.2" textLength="27.72" lengthAdjust="spacingAndGlyphs" fill="#1e1e1e">p&lt;0.005</text>
<line x1="211.90" y1="373.50" x2="225.80" y2="373.50" stroke="#111" stroke-width="1.0"/>
<text x="62.87" y="444.53" font-size="8.2" textLength="30.30" lengthAdjust="spacingAndGlyphs" fill="#1e1e1e">Baseline</text>
<text x="137.36" y="444.83" font-size="8.2" textLength="4.68" lengthAdjust="spacingAndGlyphs" fill="#1e1e1e">3</text>
<text x="199.16" y="444.83" font-size="8.2" textLength="4.90" lengthAdjust="spacingAndGlyphs" fill="#1e1e1e">6</text>
<line x1="112.20" y1="449.50" x2="229.20" y2="449.50" stroke="#111" stroke-width="1.2"/>
<text x="138.42" y="460.14" font-size="9.4" textLength="65.15" lengthAdjust="spacingAndGlyphs" fill="#1e1e1e">Post TBI time (hour)</text>
<text transform="translate(23.08,406.93) rotate(-90)" x="0" y="0" font-size="9.8" textLength="69.46" lengthAdjust="spacingAndGlyphs" fill="#1e1e1e">VWF:CB (OD 450 nm)</text>
<text x="249.05" y="281.90" font-size="12.32" textLength="8.74" lengthAdjust="spacingAndGlyphs" font-weight="bold" fill="#000" style="stroke:#000;stroke-width:0.45px">E</text>
<line x1="288.50" y1="302.50" x2="300.00" y2="302.50" stroke="#2e6a4b" stroke-width="1.3"/>
<circle cx="294.2" cy="302.7" r="2.4" fill="#2e6a4b"/>
<text x="302.47" y="305.53" font-size="8.2" textLength="50.57" lengthAdjust="spacingAndGlyphs" fill="#1e1e1e">3 hrs post TBI</text>
<line x1="288.50" y1="314.50" x2="300.00" y2="314.50" stroke="#8a83c6" stroke-width="1.3"/>
<circle cx="294.2" cy="314.1" r="2.4" fill="#8a83c6"/>
<text x="302.39" y="316.93" font-size="8.2" textLength="50.66" lengthAdjust="spacingAndGlyphs" fill="#1e1e1e">6 hrs post TBI</text>
<line x1="288.50" y1="327.30" x2="288.50" y2="435.00" stroke="#111" stroke-width="1.2"/>
<line x1="285.45" y1="435.00" x2="288.45" y2="435.00" stroke="#111" stroke-width="0.9"/>
<text x="271.33" y="437.50" font-size="8.4" textLength="11.56" lengthAdjust="spacingAndGlyphs" fill="#1e1e1e">0.0</text>
<line x1="285.45" y1="417.60" x2="288.45" y2="417.60" stroke="#111" stroke-width="0.9"/>
<text x="271.37" y="420.10" font-size="8.4" textLength="11.56" lengthAdjust="spacingAndGlyphs" fill="#1e1e1e">0.5</text>
<line x1="285.45" y1="400.20" x2="288.45" y2="400.20" stroke="#111" stroke-width="0.9"/>
<text x="271.33" y="402.70" font-size="8.4" textLength="11.56" lengthAdjust="spacingAndGlyphs" fill="#1e1e1e">1.0</text>
<line x1="285.45" y1="382.80" x2="288.45" y2="382.80" stroke="#111" stroke-width="0.9"/>
<text x="271.37" y="385.30" font-size="8.4" textLength="11.56" lengthAdjust="spacingAndGlyphs" fill="#1e1e1e">1.5</text>
<line x1="285.45" y1="365.40" x2="288.45" y2="365.40" stroke="#111" stroke-width="0.9"/>
<text x="271.33" y="367.90" font-size="8.4" textLength="11.56" lengthAdjust="spacingAndGlyphs" fill="#1e1e1e">2.0</text>
<line x1="285.45" y1="348.00" x2="288.45" y2="348.00" stroke="#111" stroke-width="0.9"/>
<text x="271.37" y="350.50" font-size="8.4" textLength="11.56" lengthAdjust="spacingAndGlyphs" fill="#1e1e1e">2.5</text>
<line x1="285.45" y1="330.60" x2="288.45" y2="330.60" stroke="#111" stroke-width="0.9"/>
<text x="271.33" y="333.10" font-size="8.4" textLength="11.56" lengthAdjust="spacingAndGlyphs" fill="#1e1e1e">3.0</text>
<line x1="287.50" y1="435.50" x2="412.40" y2="435.50" stroke="#111" stroke-width="1.2"/>
<line x1="301.50" y1="435.00" x2="301.50" y2="437.50" stroke="#111" stroke-width="0.9"/>
<line x1="320.50" y1="435.00" x2="320.50" y2="437.50" stroke="#111" stroke-width="0.9"/>
<line x1="339.50" y1="435.00" x2="339.50" y2="437.50" stroke="#111" stroke-width="0.9"/>
<line x1="358.50" y1="435.00" x2="358.50" y2="437.50" stroke="#111" stroke-width="0.9"/>
<line x1="377.50" y1="435.00" x2="377.50" y2="437.50" stroke="#111" stroke-width="0.9"/>
<line x1="395.50" y1="435.00" x2="395.50" y2="437.50" stroke="#111" stroke-width="0.9"/>
<line x1="409.50" y1="435.00" x2="409.50" y2="437.50" stroke="#111" stroke-width="0.9"/>
<text x="301.25" y="447.83" font-size="8.2" text-anchor="middle" fill="#1e1e1e">0</text>
<text x="320.00" y="447.83" font-size="8.2" text-anchor="middle" fill="#1e1e1e">1</text>
<text x="339.00" y="447.83" font-size="8.2" text-anchor="middle" fill="#1e1e1e">2</text>
<text x="358.00" y="447.83" font-size="8.2" text-anchor="middle" fill="#1e1e1e">4</text>
<text x="377.00" y="447.83" font-size="8.2" text-anchor="middle" fill="#1e1e1e">6</text>
<text x="395.00" y="447.83" font-size="8.2" text-anchor="middle" fill="#1e1e1e">8</text>
<text x="399.45" y="447.83" font-size="8.2" textLength="20.13" lengthAdjust="spacingAndGlyphs" fill="#1e1e1e">Sham</text>
<line x1="299.50" y1="452.50" x2="398.90" y2="452.50" stroke="#111" stroke-width="1.2"/>
<text x="330.00" y="462.83" font-size="8.2" textLength="38.51" lengthAdjust="spacingAndGlyphs" fill="#1e1e1e">A2 (mg/kg)</text>
<polyline points="301.10,353.80 320.30,373.50 339.20,383.10 358.40,400.00 377.30,406.20 394.80,413.90" fill="none" stroke="#2e6a4b" stroke-width="1.3"/>
<line x1="301.10" y1="346.60" x2="301.10" y2="361.20" stroke="#111" stroke-width="0.9"/>
<line x1="299.40" y1="346.60" x2="302.80" y2="346.60" stroke="#111" stroke-width="1.0"/>
<line x1="299.40" y1="361.20" x2="302.80" y2="361.20" stroke="#111" stroke-width="1.0"/>
<line x1="320.30" y1="368.90" x2="320.30" y2="378.90" stroke="#111" stroke-width="0.9"/>
<line x1="318.60" y1="368.90" x2="322.00" y2="368.90" stroke="#111" stroke-width="1.0"/>
<line x1="318.60" y1="378.90" x2="322.00" y2="378.90" stroke="#111" stroke-width="1.0"/>
<line x1="339.20" y1="380.40" x2="339.20" y2="385.40" stroke="#111" stroke-width="0.9"/>
<line x1="337.50" y1="380.40" x2="340.90" y2="380.40" stroke="#111" stroke-width="1.0"/>
<line x1="337.50" y1="385.40" x2="340.90" y2="385.40" stroke="#111" stroke-width="1.0"/>
<circle cx="301.10" cy="353.80" r="2.6" fill="#2e6a4b"/>
<circle cx="320.30" cy="373.50" r="2.6" fill="#2e6a4b"/>
<circle cx="339.20" cy="383.10" r="2.6" fill="#2e6a4b"/>
<circle cx="358.40" cy="400.00" r="2.6" fill="#2e6a4b"/>
<circle cx="377.30" cy="406.20" r="2.6" fill="#2e6a4b"/>
<circle cx="394.80" cy="413.90" r="2.6" fill="#2e6a4b"/>
<polyline points="301.10,382.80 320.30,392.00 339.20,396.90 358.40,405.70 377.30,408.90 394.80,415.70" fill="none" stroke="#8a83c6" stroke-width="1.3"/>
<line x1="301.10" y1="380.50" x2="301.10" y2="386.10" stroke="#111" stroke-width="0.9"/>
<line x1="299.40" y1="380.50" x2="302.80" y2="380.50" stroke="#111" stroke-width="1.0"/>
<line x1="299.40" y1="386.10" x2="302.80" y2="386.10" stroke="#111" stroke-width="1.0"/>
<line x1="320.30" y1="387.70" x2="320.30" y2="396.90" stroke="#111" stroke-width="0.9"/>
<line x1="318.60" y1="387.70" x2="322.00" y2="387.70" stroke="#111" stroke-width="1.0"/>
<line x1="318.60" y1="396.90" x2="322.00" y2="396.90" stroke="#111" stroke-width="1.0"/>
<line x1="339.20" y1="394.60" x2="339.20" y2="399.50" stroke="#111" stroke-width="0.9"/>
<line x1="337.50" y1="394.60" x2="340.90" y2="394.60" stroke="#111" stroke-width="1.0"/>
<line x1="337.50" y1="399.50" x2="340.90" y2="399.50" stroke="#111" stroke-width="1.0"/>
<circle cx="301.10" cy="382.80" r="2.6" fill="#8a83c6"/>
<circle cx="320.30" cy="392.00" r="2.6" fill="#8a83c6"/>
<circle cx="339.20" cy="396.90" r="2.6" fill="#8a83c6"/>
<circle cx="358.40" cy="405.70" r="2.6" fill="#8a83c6"/>
<circle cx="377.30" cy="408.90" r="2.6" fill="#8a83c6"/>
<circle cx="394.80" cy="415.70" r="2.6" fill="#8a83c6"/>
<circle cx="407.7" cy="420.8" r="2.6" fill="#2e6a4b"/>
<circle cx="407.7" cy="422.3" r="2.6" fill="#8a83c6"/>
<circle cx="339.20" cy="376.20" r="1.0" fill="#222"/>
<circle cx="358.40" cy="393.50" r="1.0" fill="#222"/>
<circle cx="377.30" cy="400.30" r="1.0" fill="#222"/>
<circle cx="394.80" cy="408.10" r="1.0" fill="#222"/>
<text x="339.20" y="407.64" font-size="6.5" text-anchor="middle" fill="#222">#</text>
<text x="358.40" y="414.54" font-size="6.5" text-anchor="middle" fill="#222">#</text>
<text x="377.30" y="419.44" font-size="6.5" text-anchor="middle" fill="#222">#</text>
<text x="394.80" y="425.54" font-size="6.5" text-anchor="middle" fill="#222">#</text>
<text transform="translate(265.08,416.34) rotate(-90)" x="0" y="0" font-size="9.8" textLength="72.08" lengthAdjust="spacingAndGlyphs" fill="#1e1e1e">VWF:CB (OD 450 nm)</text>
<text x="6.85" y="487.50" font-size="12.61" textLength="8.03" lengthAdjust="spacingAndGlyphs" font-weight="bold" fill="#000" style="stroke:#000;stroke-width:0.45px">F</text>
<rect x="43.30" y="493.40" width="10.00" height="4.80" fill="#a2032c"/>
<text x="55.87" y="498.63" font-size="8.2" textLength="19.19" lengthAdjust="spacingAndGlyphs" fill="#1e1e1e">Sham</text>
<rect x="43.30" y="504.30" width="10.00" height="4.80" fill="#2f4a7d"/>
<text x="56.06" y="509.53" font-size="8.2" textLength="33.49" lengthAdjust="spacingAndGlyphs" fill="#1e1e1e">TBI+TBST</text>
<rect x="43.30" y="515.20" width="10.00" height="4.80" fill="#6aa645"/>
<text x="56.05" y="520.43" font-size="8.2" textLength="25.55" lengthAdjust="spacingAndGlyphs" fill="#1e1e1e">TBI+A2</text>
<line x1="39.50" y1="520.00" x2="39.50" y2="652.00" stroke="#111" stroke-width="1.2"/>
<line x1="36.50" y1="651.50" x2="39.50" y2="651.50" stroke="#111" stroke-width="0.9"/>
<text x="22.13" y="654.00" font-size="8.4" textLength="11.56" lengthAdjust="spacingAndGlyphs" fill="#1e1e1e">0.0</text>
<line x1="36.50" y1="626.10" x2="39.50" y2="626.10" stroke="#111" stroke-width="0.9"/>
<text x="22.26" y="628.60" font-size="8.4" textLength="11.56" lengthAdjust="spacingAndGlyphs" fill="#1e1e1e">0.2</text>
<line x1="36.50" y1="600.70" x2="39.50" y2="600.70" stroke="#111" stroke-width="0.9"/>
<text x="22.09" y="603.20" font-size="8.4" textLength="11.56" lengthAdjust="spacingAndGlyphs" fill="#1e1e1e">0.4</text>
<line x1="36.50" y1="575.30" x2="39.50" y2="575.30" stroke="#111" stroke-width="0.9"/>
<text x="22.17" y="577.80" font-size="8.4" textLength="11.56" lengthAdjust="spacingAndGlyphs" fill="#1e1e1e">0.6</text>
<line x1="36.50" y1="549.90" x2="39.50" y2="549.90" stroke="#111" stroke-width="0.9"/>
<text x="22.17" y="552.40" font-size="8.4" textLength="11.56" lengthAdjust="spacingAndGlyphs" fill="#1e1e1e">0.8</text>
<line x1="36.50" y1="524.50" x2="39.50" y2="524.50" stroke="#111" stroke-width="0.9"/>
<text x="22.13" y="527.00" font-size="8.4" textLength="11.56" lengthAdjust="spacingAndGlyphs" fill="#1e1e1e">1.0</text>
<line x1="37.00" y1="651.50" x2="141.50" y2="651.50" stroke="#111" stroke-width="1.2"/>
<line x1="53.27" y1="603.20" x2="53.27" y2="608.50" stroke="#111" stroke-width="1.0"/>
<line x1="52.17" y1="603.65" x2="54.38" y2="603.65" stroke="#111" stroke-width="0.9"/>
<rect x="47.65" y="608.50" width="11.25" height="43.20" fill="#a2032c"/>
<rect x="48.00" y="608.85" width="10.55" height="42.85" fill="none" stroke="#960024" stroke-width="0.7"/>
<line x1="66.72" y1="548.00" x2="66.72" y2="554.80" stroke="#111" stroke-width="1.0"/>
<line x1="65.62" y1="548.45" x2="67.82" y2="548.45" stroke="#111" stroke-width="0.9"/>
<rect x="60.90" y="554.80" width="11.65" height="96.90" fill="#2f4a7d"/>
<rect x="61.25" y="555.15" width="10.95" height="96.55" fill="none" stroke="#1f386a" stroke-width="0.7"/>
<line x1="80.00" y1="582.30" x2="80.00" y2="588.00" stroke="#111" stroke-width="1.0"/>
<line x1="78.90" y1="582.75" x2="81.10" y2="582.75" stroke="#111" stroke-width="0.9"/>
<rect x="74.20" y="588.00" width="11.60" height="63.70" fill="#6aa645"/>
<rect x="74.55" y="588.35" width="10.90" height="63.35" fill="none" stroke="#59992f" stroke-width="0.7"/>
<line x1="99.00" y1="609.80" x2="99.00" y2="614.60" stroke="#111" stroke-width="1.0"/>
<line x1="97.90" y1="610.25" x2="100.10" y2="610.25" stroke="#111" stroke-width="0.9"/>
<rect x="93.20" y="614.60" width="11.60" height="37.10" fill="#a2032c"/>
<rect x="93.55" y="614.95" width="10.90" height="36.75" fill="none" stroke="#960024" stroke-width="0.7"/>
<line x1="112.50" y1="548.00" x2="112.50" y2="556.70" stroke="#111" stroke-width="1.0"/>
<line x1="111.40" y1="548.45" x2="113.60" y2="548.45" stroke="#111" stroke-width="0.9"/>
<rect x="107.00" y="556.70" width="11.00" height="95.00" fill="#2f4a7d"/>
<rect x="107.35" y="557.05" width="10.30" height="94.65" fill="none" stroke="#1f386a" stroke-width="0.7"/>
<line x1="125.90" y1="595.10" x2="125.90" y2="600.00" stroke="#111" stroke-width="1.0"/>
<line x1="124.80" y1="595.55" x2="127.00" y2="595.55" stroke="#111" stroke-width="0.9"/>
<rect x="120.30" y="600.00" width="11.20" height="51.70" fill="#6aa645"/>
<rect x="120.65" y="600.35" width="10.50" height="51.35" fill="none" stroke="#59992f" stroke-width="0.7"/>
<text x="46.11" y="543.33" font-size="8.2" textLength="27.45" lengthAdjust="spacingAndGlyphs" fill="#1e1e1e">p&lt;0.001</text>
<line x1="52.30" y1="546.50" x2="67.65" y2="546.50" stroke="#111" stroke-width="1.0"/>
<text x="61.52" y="530.53" font-size="8.2" textLength="26.83" lengthAdjust="spacingAndGlyphs" fill="#1e1e1e">p&lt;0.001</text>
<line x1="68.50" y1="534.50" x2="83.00" y2="534.50" stroke="#111" stroke-width="1.0"/>
<text x="92.32" y="541.83" font-size="8.2" textLength="26.73" lengthAdjust="spacingAndGlyphs" fill="#1e1e1e">p&lt;0.001</text>
<line x1="98.70" y1="544.50" x2="113.60" y2="544.50" stroke="#111" stroke-width="1.0"/>
<text x="106.50" y="528.93" font-size="8.2" textLength="27.86" lengthAdjust="spacingAndGlyphs" fill="#1e1e1e">p&lt;0.001</text>
<line x1="115.60" y1="533.50" x2="128.90" y2="533.50" stroke="#111" stroke-width="1.0"/>
<text x="64.18" y="662.33" font-size="8.2" textLength="4.39" lengthAdjust="spacingAndGlyphs" fill="#1e1e1e">3</text>
<text x="109.54" y="662.33" font-size="8.2" textLength="5.08" lengthAdjust="spacingAndGlyphs" fill="#1e1e1e">6</text>
<line x1="51.25" y1="666.50" x2="135.00" y2="666.50" stroke="#111" stroke-width="1.2"/>
<text x="56.85" y="676.08" font-size="8.2" textLength="72.42" lengthAdjust="spacingAndGlyphs" fill="#1e1e1e">Post TBI time (hour)</text>
<text transform="translate(14.52,630.24) rotate(-90)" x="0" y="0" font-size="10.5" textLength="70.83" lengthAdjust="spacingAndGlyphs" fill="#1e1e1e">VWF:CB/VWF:Ag ratio</text>
<text x="142.76" y="487.50" font-size="13.48" textLength="10.49" lengthAdjust="spacingAndGlyphs" font-weight="bold" fill="#000" style="stroke:#000;stroke-width:0.45px">G</text>
<rect x="188.50" y="492.20" width="10.20" height="5.00" fill="#a2032c"/>
<text x="201.96" y="497.53" font-size="8.2" textLength="47.41" lengthAdjust="spacingAndGlyphs" fill="#1e1e1e">Sham+anti-A2</text>
<rect x="188.50" y="503.30" width="10.20" height="5.00" fill="#2f4a7d"/>
<text x="202.16" y="508.63" font-size="8.2" textLength="32.58" lengthAdjust="spacingAndGlyphs" fill="#1e1e1e">TBI+TBST</text>
<rect x="188.50" y="514.30" width="10.20" height="5.00" fill="#532a6c"/>
<text x="202.15" y="519.63" font-size="8.2" textLength="61.73" lengthAdjust="spacingAndGlyphs" fill="#1e1e1e">TBI+TBST+anti-A2</text>
<rect x="272.50" y="492.20" width="10.20" height="5.00" fill="#6aa645"/>
<text x="285.85" y="497.53" font-size="8.2" textLength="25.55" lengthAdjust="spacingAndGlyphs" fill="#1e1e1e">TBI+A2</text>
<rect x="272.50" y="503.10" width="10.20" height="5.00" fill="#df8d1c"/>
<text x="285.85" y="508.43" font-size="8.2" textLength="54.54" lengthAdjust="spacingAndGlyphs" fill="#1e1e1e">TBI+A2+anti-A2</text>
<line x1="170.50" y1="510.00" x2="170.50" y2="651.00" stroke="#111" stroke-width="1.2"/>
<line x1="167.00" y1="650.50" x2="170.00" y2="650.50" stroke="#111" stroke-width="0.9"/>
<text x="159.53" y="653.00" font-size="8.4" textLength="4.67" lengthAdjust="spacingAndGlyphs" fill="#1e1e1e">0</text>
<line x1="167.00" y1="632.30" x2="170.00" y2="632.30" stroke="#111" stroke-width="0.9"/>
<text x="159.62" y="634.80" font-size="8.4" textLength="4.67" lengthAdjust="spacingAndGlyphs" fill="#1e1e1e">1</text>
<line x1="167.00" y1="613.90" x2="170.00" y2="613.90" stroke="#111" stroke-width="0.9"/>
<text x="159.66" y="616.40" font-size="8.4" textLength="4.67" lengthAdjust="spacingAndGlyphs" fill="#1e1e1e">2</text>
<line x1="167.00" y1="595.10" x2="170.00" y2="595.10" stroke="#111" stroke-width="0.9"/>
<text x="159.57" y="597.60" font-size="8.4" textLength="4.67" lengthAdjust="spacingAndGlyphs" fill="#1e1e1e">3</text>
<line x1="167.00" y1="576.50" x2="170.00" y2="576.50" stroke="#111" stroke-width="0.9"/>
<text x="159.49" y="579.00" font-size="8.4" textLength="4.67" lengthAdjust="spacingAndGlyphs" fill="#1e1e1e">4</text>
<line x1="167.00" y1="557.90" x2="170.00" y2="557.90" stroke="#111" stroke-width="0.9"/>
<text x="159.57" y="560.40" font-size="8.4" textLength="4.67" lengthAdjust="spacingAndGlyphs" fill="#1e1e1e">5</text>
<line x1="167.00" y1="538.50" x2="170.00" y2="538.50" stroke="#111" stroke-width="0.9"/>
<text x="159.57" y="541.00" font-size="8.4" textLength="4.67" lengthAdjust="spacingAndGlyphs" fill="#1e1e1e">6</text>
<line x1="167.00" y1="513.40" x2="170.00" y2="513.40" stroke="#111" stroke-width="0.9"/>
<text x="159.66" y="515.90" font-size="8.4" textLength="4.67" lengthAdjust="spacingAndGlyphs" fill="#1e1e1e">7</text>
<line x1="167.30" y1="650.50" x2="358.50" y2="650.50" stroke="#111" stroke-width="1.2"/>
<line x1="179.05" y1="631.20" x2="179.05" y2="634.30" stroke="#111" stroke-width="1.0"/>
<line x1="177.95" y1="631.65" x2="180.15" y2="631.65" stroke="#111" stroke-width="0.9"/>
<rect x="174.20" y="634.30" width="9.70" height="16.20" fill="#a2032c"/>
<rect x="174.55" y="634.65" width="9.00" height="15.85" fill="none" stroke="#960024" stroke-width="0.7"/>
<line x1="190.65" y1="630.80" x2="190.65" y2="635.10" stroke="#111" stroke-width="1.0"/>
<line x1="189.55" y1="631.25" x2="191.75" y2="631.25" stroke="#111" stroke-width="0.9"/>
<rect x="185.80" y="635.10" width="9.70" height="15.40" fill="#2f4a7d"/>
<rect x="186.15" y="635.45" width="9.00" height="15.05" fill="none" stroke="#1f386a" stroke-width="0.7"/>
<line x1="202.05" y1="628.90" x2="202.05" y2="633.80" stroke="#111" stroke-width="1.0"/>
<line x1="200.95" y1="629.35" x2="203.15" y2="629.35" stroke="#111" stroke-width="0.9"/>
<rect x="197.30" y="633.80" width="9.50" height="16.70" fill="#532a6c"/>
<rect x="197.65" y="634.15" width="8.80" height="16.35" fill="none" stroke="#47215e" stroke-width="0.7"/>
<line x1="213.60" y1="633.80" x2="213.60" y2="637.20" stroke="#111" stroke-width="1.0"/>
<line x1="212.50" y1="634.25" x2="214.70" y2="634.25" stroke="#111" stroke-width="0.9"/>
<rect x="208.80" y="637.20" width="9.60" height="13.30" fill="#6aa645"/>
<rect x="209.15" y="637.55" width="8.90" height="12.95" fill="none" stroke="#59992f" stroke-width="0.7"/>
<line x1="225.00" y1="633.40" x2="225.00" y2="637.00" stroke="#111" stroke-width="1.0"/>
<line x1="223.90" y1="633.85" x2="226.10" y2="633.85" stroke="#111" stroke-width="0.9"/>
<rect x="220.10" y="637.00" width="9.80" height="13.50" fill="#df8d1c"/>
<rect x="220.45" y="637.35" width="9.10" height="13.15" fill="none" stroke="#d6840f" stroke-width="0.7"/>
<line x1="241.00" y1="619.10" x2="241.00" y2="624.20" stroke="#111" stroke-width="1.0"/>
<line x1="239.90" y1="619.55" x2="242.10" y2="619.55" stroke="#111" stroke-width="0.9"/>
<rect x="236.00" y="624.20" width="10.00" height="26.30" fill="#a2032c"/>
<rect x="236.35" y="624.55" width="9.30" height="25.95" fill="none" stroke="#960024" stroke-width="0.7"/>
<line x1="252.55" y1="551.70" x2="252.55" y2="567.00" stroke="#111" stroke-width="1.0"/>
<line x1="251.45" y1="552.15" x2="253.65" y2="552.15" stroke="#111" stroke-width="0.9"/>
<rect x="247.70" y="567.00" width="9.70" height="83.50" fill="#2f4a7d"/>
<rect x="248.05" y="567.35" width="9.00" height="83.15" fill="none" stroke="#1f386a" stroke-width="0.7"/>
<line x1="264.00" y1="547.70" x2="264.00" y2="564.00" stroke="#111" stroke-width="1.0"/>
<line x1="262.90" y1="548.15" x2="265.10" y2="548.15" stroke="#111" stroke-width="0.9"/>
<rect x="258.90" y="564.00" width="10.20" height="86.50" fill="#532a6c"/>
<rect x="259.25" y="564.35" width="9.50" height="86.15" fill="none" stroke="#47215e" stroke-width="0.7"/>
<line x1="275.50" y1="595.20" x2="275.50" y2="608.30" stroke="#111" stroke-width="1.0"/>
<line x1="274.40" y1="595.65" x2="276.60" y2="595.65" stroke="#111" stroke-width="0.9"/>
<rect x="270.70" y="608.30" width="9.60" height="42.20" fill="#6aa645"/>
<rect x="271.05" y="608.65" width="8.90" height="41.85" fill="none" stroke="#59992f" stroke-width="0.7"/>
<line x1="286.95" y1="562.90" x2="286.95" y2="575.80" stroke="#111" stroke-width="1.0"/>
<line x1="285.85" y1="563.35" x2="288.05" y2="563.35" stroke="#111" stroke-width="0.9"/>
<rect x="282.00" y="575.80" width="9.90" height="74.70" fill="#df8d1c"/>
<rect x="282.35" y="576.15" width="9.20" height="74.35" fill="none" stroke="#d6840f" stroke-width="0.7"/>
<line x1="302.75" y1="628.40" x2="302.75" y2="631.00" stroke="#111" stroke-width="1.0"/>
<line x1="301.65" y1="628.85" x2="303.85" y2="628.85" stroke="#111" stroke-width="0.9"/>
<rect x="297.85" y="631.00" width="9.80" height="19.50" fill="#a2032c"/>
<rect x="298.20" y="631.35" width="9.10" height="19.15" fill="none" stroke="#960024" stroke-width="0.7"/>
<line x1="314.20" y1="596.00" x2="314.20" y2="604.40" stroke="#111" stroke-width="1.0"/>
<line x1="313.10" y1="596.45" x2="315.30" y2="596.45" stroke="#111" stroke-width="0.9"/>
<rect x="309.40" y="604.40" width="9.60" height="46.10" fill="#2f4a7d"/>
<rect x="309.75" y="604.75" width="8.90" height="45.75" fill="none" stroke="#1f386a" stroke-width="0.7"/>
<line x1="325.93" y1="603.50" x2="325.93" y2="609.10" stroke="#111" stroke-width="1.0"/>
<line x1="324.82" y1="603.95" x2="327.03" y2="603.95" stroke="#111" stroke-width="0.9"/>
<rect x="321.10" y="609.10" width="9.65" height="41.40" fill="#532a6c"/>
<rect x="321.45" y="609.45" width="8.95" height="41.05" fill="none" stroke="#47215e" stroke-width="0.7"/>
<line x1="337.30" y1="614.40" x2="337.30" y2="623.10" stroke="#111" stroke-width="1.0"/>
<line x1="336.20" y1="614.85" x2="338.40" y2="614.85" stroke="#111" stroke-width="0.9"/>
<rect x="332.50" y="623.10" width="9.60" height="27.40" fill="#6aa645"/>
<rect x="332.85" y="623.45" width="8.90" height="27.05" fill="none" stroke="#59992f" stroke-width="0.7"/>
<line x1="348.70" y1="602.65" x2="348.70" y2="612.30" stroke="#111" stroke-width="1.0"/>
<line x1="347.60" y1="603.10" x2="349.80" y2="603.10" stroke="#111" stroke-width="0.9"/>
<rect x="343.90" y="612.30" width="9.60" height="38.20" fill="#df8d1c"/>
<rect x="344.25" y="612.65" width="8.90" height="37.85" fill="none" stroke="#d6840f" stroke-width="0.7"/>
<text x="227.81" y="545.83" font-size="8.2" textLength="27.35" lengthAdjust="spacingAndGlyphs" fill="#1e1e1e">p&lt;0.001</text>
<line x1="231.00" y1="549.50" x2="253.80" y2="549.50" stroke="#111" stroke-width="1.0"/>
<text x="250.19" y="533.13" font-size="8.2" textLength="24.38" lengthAdjust="spacingAndGlyphs" fill="#1e1e1e">p=0.01</text>
<line x1="248.70" y1="536.50" x2="276.20" y2="536.50" stroke="#111" stroke-width="1.0"/>
<text x="266.48" y="556.63" font-size="8.2" textLength="28.89" lengthAdjust="spacingAndGlyphs" fill="#1e1e1e">p=0.029</text>
<line x1="275.20" y1="560.50" x2="285.00" y2="560.50" stroke="#111" stroke-width="1.0"/>
<text x="313.60" y="571.18" font-size="8.2" textLength="23.65" lengthAdjust="spacingAndGlyphs" fill="#1e1e1e">p&lt;0.01</text>
<line x1="313.25" y1="575.50" x2="338.10" y2="575.50" stroke="#111" stroke-width="1.0"/>
<text x="297.36" y="587.43" font-size="8.2" textLength="23.24" lengthAdjust="spacingAndGlyphs" fill="#1e1e1e">p&lt;0.01</text>
<line x1="301.90" y1="591.50" x2="316.75" y2="591.50" stroke="#111" stroke-width="1.0"/>
<text x="331.50" y="595.33" font-size="8.2" textLength="23.72" lengthAdjust="spacingAndGlyphs" fill="#1e1e1e">p&lt;0.05</text>
<line x1="336.00" y1="599.50" x2="350.00" y2="599.50" stroke="#111" stroke-width="1.0"/>
<text x="187.08" y="660.83" font-size="8.2" textLength="29.78" lengthAdjust="spacingAndGlyphs" fill="#1e1e1e">Baseline</text>
<text x="261.68" y="660.83" font-size="8.2" textLength="4.45" lengthAdjust="spacingAndGlyphs" fill="#1e1e1e">3</text>
<text x="323.05" y="660.83" font-size="8.2" textLength="5.02" lengthAdjust="spacingAndGlyphs" fill="#1e1e1e">6</text>
<line x1="236.20" y1="665.50" x2="353.85" y2="665.50" stroke="#111" stroke-width="1.2"/>
<text x="262.31" y="676.54" font-size="9.4" textLength="65.46" lengthAdjust="spacingAndGlyphs" fill="#1e1e1e">Post TBI time (hour)</text>
<text transform="translate(154.05,619.38) rotate(-90)" x="0" y="0" font-size="10" textLength="79.68" lengthAdjust="spacingAndGlyphs" fill="#1e1e1e">CD62p<tspan font-size="6.5" dy="-3.2">+</tspan><tspan dy="3.2"> platelets (MFI)</tspan></text>
<text x="359.72" y="487.80" font-size="13.33" textLength="10.89" lengthAdjust="spacingAndGlyphs" font-weight="bold" fill="#000" style="stroke:#000;stroke-width:0.45px">H</text>
<rect x="395.00" y="511.10" width="10.00" height="5.20" fill="#a2032c"/>
<text x="408.18" y="516.53" font-size="8.2" textLength="18.46" lengthAdjust="spacingAndGlyphs" fill="#1e1e1e">Sham</text>
<rect x="395.00" y="522.30" width="10.00" height="5.20" fill="#2f4a7d"/>
<text x="408.36" y="527.73" font-size="8.2" textLength="30.07" lengthAdjust="spacingAndGlyphs" fill="#1e1e1e">TBI-TBST</text>
<rect x="395.00" y="533.20" width="10.00" height="5.20" fill="#6aa645"/>
<text x="408.35" y="538.63" font-size="8.2" textLength="23.03" lengthAdjust="spacingAndGlyphs" fill="#1e1e1e">TBI-A2</text>
<line x1="391.50" y1="517.00" x2="391.50" y2="648.50" stroke="#111" stroke-width="1.2"/>
<line x1="388.50" y1="648.20" x2="391.50" y2="648.20" stroke="#111" stroke-width="0.9"/>
<text x="381.01" y="650.70" font-size="8.4" textLength="4.91" lengthAdjust="spacingAndGlyphs" fill="#1e1e1e">0</text>
<line x1="388.50" y1="622.25" x2="391.50" y2="622.25" stroke="#111" stroke-width="0.9"/>
<text x="380.97" y="624.75" font-size="8.4" textLength="4.91" lengthAdjust="spacingAndGlyphs" fill="#1e1e1e">4</text>
<line x1="388.50" y1="596.90" x2="391.50" y2="596.90" stroke="#111" stroke-width="0.9"/>
<text x="381.06" y="599.40" font-size="8.4" textLength="4.91" lengthAdjust="spacingAndGlyphs" fill="#1e1e1e">8</text>
<line x1="388.50" y1="571.50" x2="391.50" y2="571.50" stroke="#111" stroke-width="0.9"/>
<text x="376.25" y="574.00" font-size="8.4" textLength="9.81" lengthAdjust="spacingAndGlyphs" fill="#1e1e1e">12</text>
<line x1="388.50" y1="545.60" x2="391.50" y2="545.60" stroke="#111" stroke-width="0.9"/>
<text x="376.16" y="548.10" font-size="8.4" textLength="9.81" lengthAdjust="spacingAndGlyphs" fill="#1e1e1e">16</text>
<line x1="388.50" y1="521.20" x2="391.50" y2="521.20" stroke="#111" stroke-width="0.9"/>
<text x="376.12" y="523.70" font-size="8.4" textLength="9.81" lengthAdjust="spacingAndGlyphs" fill="#1e1e1e">20</text>
<line x1="389.50" y1="648.50" x2="512.80" y2="648.50" stroke="#111" stroke-width="1.2"/>
<line x1="400.93" y1="630.65" x2="400.93" y2="636.25" stroke="#111" stroke-width="1.0"/>
<line x1="399.82" y1="631.10" x2="402.03" y2="631.10" stroke="#111" stroke-width="0.9"/>
<rect x="396.10" y="636.25" width="9.65" height="11.95" fill="#a2032c"/>
<rect x="396.45" y="636.60" width="8.95" height="11.60" fill="none" stroke="#960024" stroke-width="0.7"/>
<line x1="412.30" y1="633.30" x2="412.30" y2="637.50" stroke="#111" stroke-width="1.0"/>
<line x1="411.20" y1="633.75" x2="413.40" y2="633.75" stroke="#111" stroke-width="0.9"/>
<rect x="407.50" y="637.50" width="9.60" height="10.70" fill="#2f4a7d"/>
<rect x="407.85" y="637.85" width="8.90" height="10.35" fill="none" stroke="#1f386a" stroke-width="0.7"/>
<line x1="424.02" y1="637.10" x2="424.02" y2="639.75" stroke="#111" stroke-width="1.0"/>
<line x1="422.92" y1="637.55" x2="425.12" y2="637.55" stroke="#111" stroke-width="0.9"/>
<rect x="419.20" y="639.75" width="9.65" height="8.45" fill="#6aa645"/>
<rect x="419.55" y="640.10" width="8.95" height="8.10" fill="none" stroke="#59992f" stroke-width="0.7"/>
<line x1="440.80" y1="613.30" x2="440.80" y2="619.00" stroke="#111" stroke-width="1.0"/>
<line x1="439.70" y1="613.75" x2="441.90" y2="613.75" stroke="#111" stroke-width="0.9"/>
<rect x="435.80" y="619.00" width="10.00" height="29.20" fill="#a2032c"/>
<rect x="436.15" y="619.35" width="9.30" height="28.85" fill="none" stroke="#960024" stroke-width="0.7"/>
<line x1="452.30" y1="560.20" x2="452.30" y2="575.10" stroke="#111" stroke-width="1.0"/>
<line x1="451.20" y1="560.65" x2="453.40" y2="560.65" stroke="#111" stroke-width="0.9"/>
<rect x="447.40" y="575.10" width="9.80" height="73.10" fill="#2f4a7d"/>
<rect x="447.75" y="575.45" width="9.10" height="72.75" fill="none" stroke="#1f386a" stroke-width="0.7"/>
<line x1="464.00" y1="592.40" x2="464.00" y2="603.10" stroke="#111" stroke-width="1.0"/>
<line x1="462.90" y1="592.85" x2="465.10" y2="592.85" stroke="#111" stroke-width="0.9"/>
<rect x="459.10" y="603.10" width="9.80" height="45.10" fill="#6aa645"/>
<rect x="459.45" y="603.45" width="9.10" height="44.75" fill="none" stroke="#59992f" stroke-width="0.7"/>
<line x1="479.90" y1="628.20" x2="479.90" y2="631.60" stroke="#111" stroke-width="1.0"/>
<line x1="478.80" y1="628.65" x2="481.00" y2="628.65" stroke="#111" stroke-width="0.9"/>
<rect x="475.00" y="631.60" width="9.80" height="16.60" fill="#a2032c"/>
<rect x="475.35" y="631.95" width="9.10" height="16.25" fill="none" stroke="#960024" stroke-width="0.7"/>
<line x1="491.60" y1="597.55" x2="491.60" y2="601.20" stroke="#111" stroke-width="1.0"/>
<line x1="490.50" y1="598.00" x2="492.70" y2="598.00" stroke="#111" stroke-width="0.9"/>
<rect x="486.80" y="601.20" width="9.60" height="47.00" fill="#2f4a7d"/>
<rect x="487.15" y="601.55" width="8.90" height="46.65" fill="none" stroke="#1f386a" stroke-width="0.7"/>
<line x1="503.10" y1="616.30" x2="503.10" y2="621.00" stroke="#111" stroke-width="1.0"/>
<line x1="502.00" y1="616.75" x2="504.20" y2="616.75" stroke="#111" stroke-width="0.9"/>
<rect x="498.10" y="621.00" width="10.00" height="27.20" fill="#6aa645"/>
<rect x="498.45" y="621.35" width="9.30" height="26.85" fill="none" stroke="#59992f" stroke-width="0.7"/>
<text x="430.21" y="553.43" font-size="8.2" textLength="27.35" lengthAdjust="spacingAndGlyphs" fill="#1e1e1e">p&lt;0.001</text>
<line x1="436.20" y1="557.50" x2="452.00" y2="557.50" stroke="#111" stroke-width="1.0"/>
<text x="448.61" y="540.83" font-size="8.2" textLength="23.24" lengthAdjust="spacingAndGlyphs" fill="#1e1e1e">p&lt;0.01</text>
<line x1="452.55" y1="544.50" x2="468.90" y2="544.50" stroke="#111" stroke-width="1.0"/>
<text x="472.50" y="589.53" font-size="8.2" textLength="23.65" lengthAdjust="spacingAndGlyphs" fill="#1e1e1e">p&lt;0.01</text>
<line x1="477.65" y1="593.50" x2="491.30" y2="593.50" stroke="#111" stroke-width="1.0"/>
<text x="487.81" y="577.53" font-size="8.2" textLength="23.24" lengthAdjust="spacingAndGlyphs" fill="#1e1e1e">p&lt;0.01</text>
<line x1="491.90" y1="581.50" x2="507.65" y2="581.50" stroke="#111" stroke-width="1.0"/>
<text x="397.28" y="658.33" font-size="8.2" textLength="29.83" lengthAdjust="spacingAndGlyphs" fill="#1e1e1e">Baseline</text>
<text x="450.05" y="657.83" font-size="8.2" textLength="4.92" lengthAdjust="spacingAndGlyphs" fill="#1e1e1e">3</text>
<text x="489.02" y="657.83" font-size="8.2" textLength="5.38" lengthAdjust="spacingAndGlyphs" fill="#1e1e1e">6</text>
<line x1="436.30" y1="662.50" x2="510.40" y2="662.50" stroke="#111" stroke-width="1.2"/>
<text x="437.66" y="672.43" font-size="8.2" textLength="71.66" lengthAdjust="spacingAndGlyphs" fill="#1e1e1e">Post TBI time (hour)</text>
<text transform="translate(372.09,615.74) rotate(-90)" x="0" y="0" font-size="11" textLength="68.17" lengthAdjust="spacingAndGlyphs" fill="#1e1e1e">% CD41a<tspan font-size="6.5" dy="-3.2">+</tspan><tspan dy="3.2">/VWF</tspan><tspan font-size="6.5" dy="-3.2">+</tspan><tspan dy="3.2"> EVs</tspan></text>
<rect x="0.5" y="0.5" width="519" height="685" fill="none" stroke="#000" stroke-width="1"/>
</svg>
</body></html>
